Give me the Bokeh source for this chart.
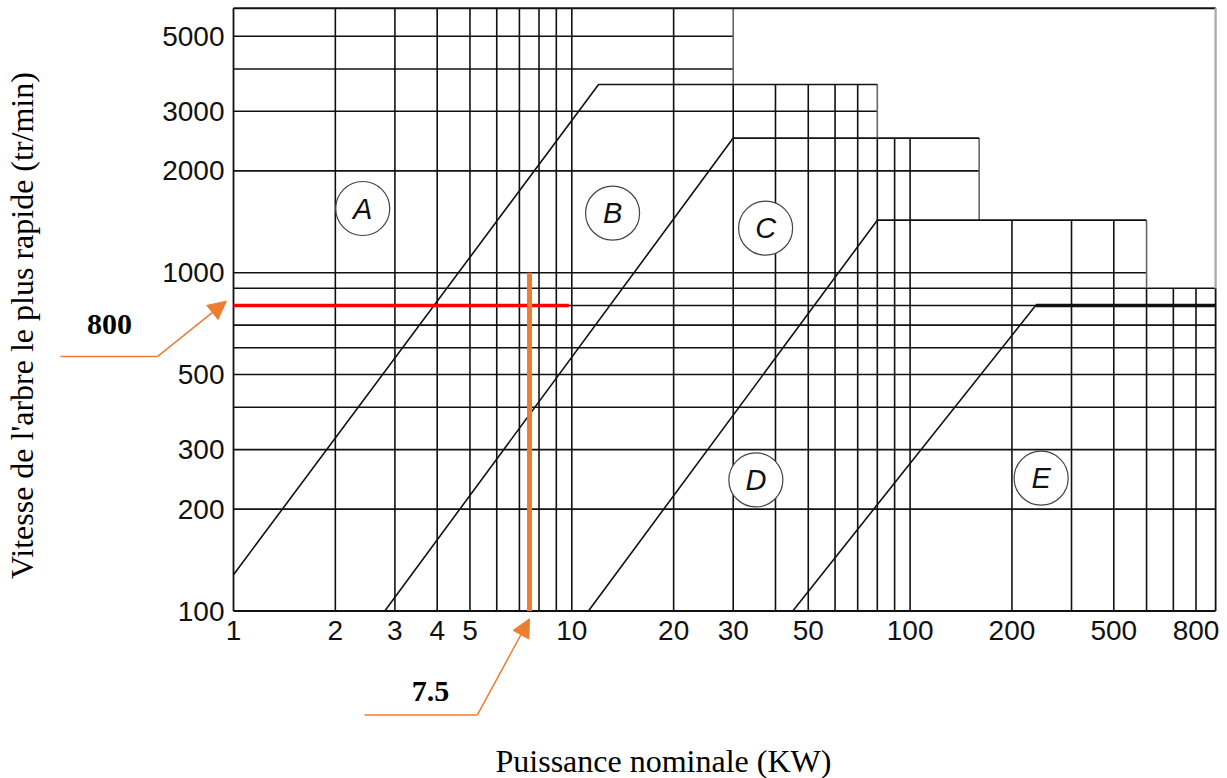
from bokeh.plotting import figure
from bokeh.models import Range1d, FixedTicker, Label, Arrow, NormalHead
from bokeh.core.properties import value
from bokeh.embed import file_html
from bokeh.resources import INLINE

# ---------------- data ----------------
x_min, x_max = 1, 800          # kW
y_min, y_max = 100, 6050       # tr/min

x_grid = [2, 3, 4, 5, 6, 7, 8, 9, 10, 20, 30, 40, 50, 60, 70, 80, 90, 100,
          200, 300, 400, 500, 600, 700]
y_grid = [200, 300, 400, 500, 600, 700, 800, 900, 1000, 2000, 3000, 4000, 5000]

# staircase outline of the gridded area
step_edges = [1, 30, 80, 160, 500, 800]
step_tops = [6050, 3600, 2500, 1430, 900]

# zone boundaries (diagonal + plateau)
zone_A_x = [1, 12, 80]
zone_A_y = [128, 3600, 3600]
zone_B_x = [2.8, 30, 160]
zone_B_y = [100, 2500, 2500]
zone_C_x = [11.2, 80, 500]
zone_C_y = [100, 1430, 1430]
zone_D_x = [45, 235]
zone_D_y = [100, 800]
zone_D_top_x = [235, 800]
zone_D_top_y = [800, 800]

zone_names = ["A", "B", "C", "D", "E"]
zone_label_x = [2.41, 13.2, 37.4, 35.0, 244]
zone_label_y = [1548, 1500, 1354, 244, 247]

speed_value = 800      # tr/min
power_value = 7.5      # kW
red_line_x = [1, 9.8]
orange_line_y = [100, 1000]

x_tick_values = [1, 2, 3, 4, 5, 10, 20, 30, 50, 100, 200, 400, 700]
x_tick_labels = ["1", "2", "3", "4", "5", "10", "20", "30", "50", "100", "200", "500", "800"]
y_tick_values = [100, 200, 300, 500, 1000, 2000, 3000, 5000]
y_tick_labels = ["100", "200", "300", "500", "1000", "2000", "3000", "5000"]

# ---------------- layout (pixels) ----------------
W, H = 1227, 778
PPD = 338.3          # pixels per decade (both axes)
X1_PX = 233.0        # canvas x of 1 kW
Y100_PX = 610.5      # canvas y (from top) of 100 tr/min

x_range = Range1d(10 ** (-X1_PX / PPD), 10 ** ((W - X1_PX) / PPD))
y_range = Range1d(10 ** (2 - (H - Y100_PX) / PPD), 10 ** (2 + Y100_PX / PPD))

ORANGE = "#ED7D31"
INK = "#111111"
LW = 1.6

p = figure(width=W, height=H, x_axis_type="log", y_axis_type="log",
           x_range=x_range, y_range=y_range,
           output_backend="svg", toolbar_location=None,
           min_border=0, min_border_left=0, min_border_right=0,
           min_border_top=0, min_border_bottom=0)
p.grid.visible = False
p.outline_line_color = None
p.background_fill_color = "white"
p.border_fill_color = "white"

p.xaxis.fixed_location = y_min
p.yaxis.fixed_location = x_min
for ax in (p.xaxis, p.yaxis):
    ax.axis_line_color = None
    ax.major_tick_line_color = None
    ax.minor_tick_line_color = None
    ax.major_tick_out = 0
    ax.major_tick_in = 0
    ax.minor_tick_out = 0
    ax.minor_tick_in = 0
    ax.major_label_text_font = "Liberation Sans"
    ax.major_label_text_font_size = "28px"
    ax.major_label_text_color = INK

p.xaxis.ticker = FixedTicker(ticks=x_tick_values, minor_ticks=[])
p.yaxis.ticker = FixedTicker(ticks=y_tick_values, minor_ticks=[])
p.xaxis.major_label_overrides = dict(zip(x_tick_values, x_tick_labels))
p.yaxis.major_label_overrides = dict(zip(y_tick_values, y_tick_labels))
p.xaxis.major_label_standoff = 10
p.yaxis.major_label_standoff = 9

# ---------------- grid (clipped by staircase) ----------------
v_x, v_y0, v_y1 = [], [], []
for x in x_grid:
    tops = [step_tops[i] for i in range(len(step_tops))
            if step_edges[i] <= x <= step_edges[i + 1]]
    v_x.append(x); v_y0.append(y_min); v_y1.append(min(tops))
p.segment(x0=v_x, y0=v_y0, x1=v_x, y1=v_y1, line_color=INK, line_width=LW)

h_y, h_x0, h_x1 = [], [], []
for y in y_grid:
    right = max(step_edges[i + 1] for i in range(len(step_tops)) if step_tops[i] >= y)
    h_y.append(y); h_x0.append(x_min); h_x1.append(right)
p.segment(x0=h_x0, y0=h_y, x1=h_x1, y1=h_y, line_color=INK, line_width=LW)

# risers of the staircase (grey)
r_x = [step_edges[i] for i in range(1, len(step_tops))]
r_y0 = [step_tops[i] for i in range(1, len(step_tops))]
r_y1 = [step_tops[i - 1] for i in range(1, len(step_tops))]
p.segment(x0=r_x, y0=r_y0, x1=r_x, y1=r_y1, line_color="#666666", line_width=LW)

# frame
p.segment(x0=[x_min, x_min, x_min, x_max], y0=[y_min, y_min, y_max, y_min],
          x1=[x_min, x_max, x_max, x_max], y1=[y_max, y_min, y_max, step_tops[-1]],
          line_color=INK, line_width=1.8)
p.segment(x0=[x_max], y0=[step_tops[-1]], x1=[x_max], y1=[y_max],
          line_color="#a8a8a8", line_width=2.2)

# ---------------- zone boundaries ----------------
for zx, zy in ((zone_A_x, zone_A_y), (zone_B_x, zone_B_y),
               (zone_C_x, zone_C_y), (zone_D_x, zone_D_y)):
    p.line(zx, zy, line_color=INK, line_width=LW)
p.line(zone_D_top_x, zone_D_top_y, line_color=INK, line_width=3.4)

# circled zone letters
p.scatter(zone_label_x, zone_label_y, marker="circle", size=54,
          fill_color="white", line_color="#444444", line_width=1.2)
p.text(x=zone_label_x, y=zone_label_y, text=zone_names,
       text_font=value("Liberation Sans"), text_font_style="italic",
       text_font_size="29px", text_align="center", text_baseline="middle",
       text_color=INK)

# ---------------- reading lines ----------------
p.line(red_line_x, [speed_value, speed_value], line_color="#FF0000", line_width=3.5)
p.line([power_value, power_value], orange_line_y, line_color=ORANGE, line_width=5)

# ---------------- callouts ----------------
p.line([0.308, 0.596], [565, 565], line_color=ORANGE, line_width=1.5)
p.add_layout(Arrow(end=NormalHead(size=18, fill_color=ORANGE, line_color=ORANGE),
                   x_start=0.596, y_start=565, x_end=0.953, y_end=824,
                   line_color=ORANGE, line_width=1.5))
p.add_layout(Label(x=0.430, y=703, text=str(speed_value), text_font="Liberation Serif",
                   text_font_style="bold", text_font_size="30px",
                   text_align="center", text_baseline="middle", text_color="black"))

p.line([2.44, 5.26], [49.3, 49.3], line_color=ORANGE, line_width=1.5)
p.add_layout(Arrow(end=NormalHead(size=18, fill_color=ORANGE, line_color=ORANGE),
                   x_start=5.26, y_start=49.3, x_end=power_value, y_end=94.8,
                   line_color=ORANGE, line_width=1.5))
p.add_layout(Label(x=3.82, y=57.9, text=str(power_value), text_font="Liberation Serif",
                   text_font_style="bold", text_font_size="30px",
                   text_align="center", text_baseline="middle", text_color="black"))

# ---------------- axis titles ----------------
p.add_layout(Label(x=18.66, y=36.1, text="Puissance nominale (KW)",
                   text_font="Liberation Serif", text_font_size="32px",
                   text_align="center", text_baseline="middle", text_color="black"))
p.add_layout(Label(x=0.2378, y=698, text="Vitesse de l'arbre le plus rapide (tr/min)",
                   angle=90, angle_units="deg",
                   text_font="Liberation Serif", text_font_size="32px",
                   text_align="center", text_baseline="middle", text_color="black"))

open("out.html", "w").write(file_html(p, INLINE))
